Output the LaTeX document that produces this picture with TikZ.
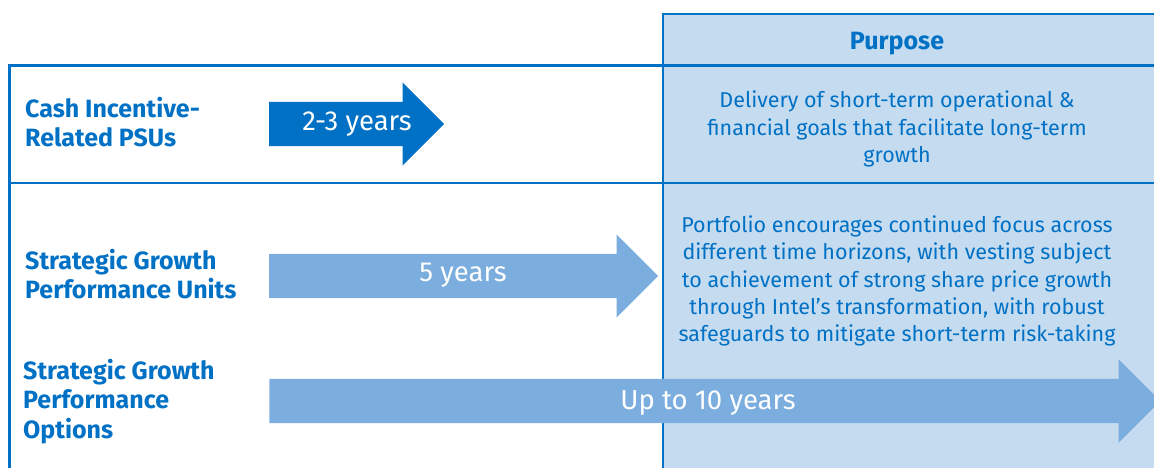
\documentclass[tikz,border=0pt]{standalone}
\usepackage{fontspec}
\setmainfont{Fira Sans}
\usetikzlibrary{shapes.arrows, positioning}
\definecolor{ink}{HTML}{0071C5}
\definecolor{deep}{HTML}{0071C5}
\definecolor{pale}{HTML}{7BADDE}
\definecolor{colfill}{HTML}{C5DBF0}
\tikzset{
  rule/.style   = {draw=ink, line width=2.5pt},
  plan/.style   = {anchor=west, align=left, inner sep=0pt, text=ink,
                   font=\fontsize{25}{29.3}\selectfont\bfseries},
  purp/.style   = {align=center, inner sep=0pt, text=ink,
                   font=\fontsize{21.5}{27.3}\selectfont},
  span/.style   = {single arrow, draw=none, fill=#1, inner xsep=0pt,
                   inner ysep=22pt, minimum width=83pt,
                   single arrow head extend=19.5pt, anchor=west},
  yrs/.style    = {text=white, inner sep=0pt,
                   font=\fontsize{27.5}{30}\selectfont},
}
\begin{document}
\begin{tikzpicture}[x=1pt, y=-1pt]
  \useasboundingbox (0,0) rectangle (1154,468);
  \clip (0,0) rectangle (1154,468);

  % purpose column
  \fill[colfill] (663,14) rectangle (1170,480);
  \draw[rule] (663,480) -- (663,14) -- (1170,14);

  % table rules
  \draw[rule] (8,65.5) -- (1170,65.5);
  \draw[rule] (8,183) -- (1170,183);
  \draw[rule] (9.5,64.5) -- (9.5,480);

  % headings and purposes
  \node[purp, font=\fontsize{25}{27}\selectfont\bfseries] (head) at (897,44) {Purpose};
  \node[purp] (pcash) at (897,129) {Delivery of short-term operational \&\\
    financial goals that facilitate long-term\\growth};
  \node[purp] (pgrow) at (897,281) {Portfolio encourages continued focus across\\
    different time horizons, with vesting subject\\
    to achievement of strong share price growth\\
    through Intel’s transformation, with robust\\
    safeguards to mitigate short-term risk-taking};

  % plan labels
  \node[plan] (cash)  at (25,122) {Cash Incentive-\\Related PSUs};
  \node[plan] (units) at (25,274) {Strategic Growth\\Performance Units};
  \node[plan] (opts)  at (23,401.5) {Strategic Growth\\Performance\\Options};

  % vesting spans
  \node[span=deep, minimum height=175pt] (a1) at (269,124) {};
  \node[span=pale, minimum height=389pt] (a2) at (269,276) {};
  \node[span=pale, minimum height=891pt] (a3) at (269,401) {};

  \node[yrs] (t1) at (357,124.5) {2-3 years};
  \node[yrs] (t2) at (463,275.5) {5 years};
  \node[yrs] (t3) at (708,402.5) {Up to 10 years};
\end{tikzpicture}
\end{document}
